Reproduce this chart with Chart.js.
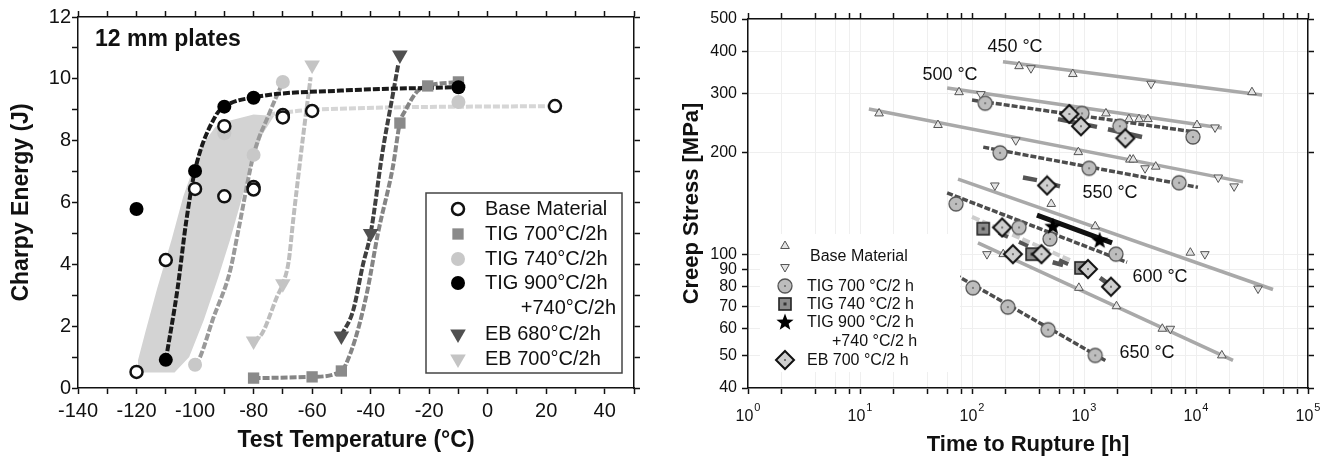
<!DOCTYPE html>
<html>
<head>
<meta charset="utf-8">
<script src="https://cdn.jsdelivr.net/npm/chart.js@4.4.1/dist/chart.umd.min.js"></script>
<style>
  body { margin: 0; background: #fff; }
  #wrap { position: relative; width: 1331px; height: 460px; }
  #c1 { position: absolute; left: 0; top: 0; }
  #c2 { position: absolute; left: 660px; top: 0; }
</style>
</head>
<body>
<div id="wrap">
  <canvas id="c1" width="660" height="460"></canvas>
  <canvas id="c2" width="671" height="460"></canvas>
</div>
<script>
// ---------- left chart: Charpy energy vs test temperature ----------
const baseMatPts = [[-120, 0.52], [-110, 4.14], [-100, 6.44], [-90, 6.2], [-90, 8.47], [-80, 6.5], [-80, 6.42], [-70, 8.83], [-70, 8.75], [-60, 8.96], [23, 9.12]];
const tig700Pts = [[-80, 0.32], [-60, 0.36], [-50, 0.55], [-30, 8.57], [-20.5, 9.77], [-10, 9.9]];
const tig740Pts = [[-100, 0.75], [-90, 8.24], [-80, 7.54], [-70, 9.9], [-10, 9.25]];
const tig900Pts = [[-120, 5.79], [-110, 0.91], [-100, 7.02], [-90, 9.1], [-80, 9.39], [-10, 9.73]];
const eb680Pts = [[-50, 1.68], [-40, 5.0], [-30, 10.77]];
const eb700Pts = [[-80, 1.52], [-70, 3.37], [-60, 10.45]];

// scatter band and fitted curves
const baseBand = [[-119.5, 0.5], [-107, 0.5], [-102, 1.0], [-97, 2.2], [-92, 3.6], [-88, 4.8], [-82, 6.8], [-77, 8.2], [-73, 8.8], [-80, 8.85], [-88, 8.65], [-93, 8.45], [-98, 7.8], [-104, 6.2], [-108, 4.8], [-113, 3.2], [-117, 1.8], [-119.5, 0.9], [-119.5, 0.5]];
const baseCurve = [[-75, 8.85], [-60, 9.0], [23, 9.12]];
const tig700Curve = [[-80, 0.32], [-60, 0.36], [-50, 0.55], [-47, 1.1], [-44, 2.0], [-41, 3.2], [-37.5, 5.0], [-32.4, 7.15], [-30, 8.57], [-28, 9.0], [-24, 9.6], [-20.5, 9.77], [-10, 9.9]];
const tig740Curve = [[-100, 0.75], [-98.3, 1.0], [-94, 2.2], [-88, 3.8], [-85, 5.2], [-80, 7.54], [-75, 8.8], [-70, 9.9]];
const tig900Curve = [[-110, 0.9], [-106, 3.2], [-103, 5.4], [-100, 7.05], [-93, 8.8], [-90, 9.1], [-80, 9.4], [-50, 9.62], [-10, 9.73]];
const eb680Curve = [[-50, 1.7], [-46, 2.5], [-42.6, 4.0], [-40, 5.0], [-36, 7.6], [-32.4, 9.5], [-30.5, 10.5]];
const eb700Curve = [[-80, 1.52], [-77, 1.78], [-72, 2.95], [-70, 3.37], [-68, 4.1], [-66.5, 5.4], [-63, 8.2], [-60.5, 10.05]];

// ---------- right chart: creep stress vs time to rupture ----------
const baseFits = [
  [[189, 373], [38900, 297]],
  [[60, 312], [17000, 237]],
  [[12, 270], [26300, 164]],
  [[75, 167], [48700, 78.5]],
  [[113, 108], [21400, 48.3]],
];
const baseUp = [[263, 362], [795, 343], [31600, 303], [76.6, 303], [1570, 262], [2520, 252], [3100, 252], [3720, 252], [10200, 242],
  [14.8, 262], [49.7, 242], [890, 201], [2570, 191], [2750, 191], [4370, 182], [510, 141], [1260, 121], [8900, 101],
  [190, 100], [900, 79.4], [1950, 70], [5000, 60], [17000, 50]];
const baseDown = [[336, 357], [3970, 321], [120, 299], [14800, 238], [246, 218], [3510, 180], [15800, 169], [21900, 159],
  [160, 160], [12000, 100], [35800, 79], [136, 100], [5900, 60]];
const tig700Fits = [
  [[100, 287], [10400, 230]],
  [[126, 208], [10400, 158]],
  [[60, 152], [2420, 94.6]],
  [[70.6, 87], [1550, 48.3]],
];
const tig700Rt = [[131, 281], [960, 262], [2090, 240], [9400, 223], [178, 200], [1110, 180], [7060, 163],
  [72, 141], [263, 120], [497, 111], [1930, 100], [102, 79.4], [209, 69.6], [478, 59.6], [1260, 50]];
const tig740Rt = [[126, 119], [344, 100], [940, 91]];
const tig740Fit = [[115, 123], [1000, 89]];
const lightFit = [[100, 129], [750, 96]];
const tig900Rt = [[527, 121], [1380, 110]];
const tig900Fit = [[380, 130.6], [1780, 108]];
const eb700Rt = [[740, 261], [940, 240], [2340, 221], [468, 160], [186, 120], [232, 100], [417, 100], [1085, 90.3], [1740, 80]];
const ebFits = [
  [[586, 252], [1306, 239]],
  [[1637, 235], [3296, 223]],
  [[285, 169], [380, 166]],
  [[500, 162], [611, 159]],
  [[525, 94.6], [650, 92.8]],
  [[1390, 85], [1700, 81]],
];
const xTickVals = [1, 2, 4, 6, 8, 10, 20, 40, 60, 80, 100, 200, 400, 600, 800, 1000, 2000, 4000, 6000, 8000, 10000, 20000, 40000, 60000, 80000, 100000];
const xDecades = [0, 1, 2, 3, 4, 5];
const yTickVals = [40, 50, 60, 70, 80, 90, 100, 200, 300, 400, 500];

const FONT = '"Liberation Sans", Arial, sans-serif';
Chart.defaults.font.family = FONT;
Chart.defaults.color = '#111';

const pts = (arr) => arr.map(([x, y]) => ({ x, y }));

function marker(w, h, draw) {
  const c = document.createElement('canvas');
  c.width = w;
  c.height = h;
  draw(c.getContext('2d'), w, h);
  return c;
}

const circ700 = marker(18, 18, (g) => {
  g.beginPath(); g.arc(9, 9, 7, 0, Math.PI * 2);
  g.fillStyle = '#bdbdbd'; g.fill();
  g.lineWidth = 1.3; g.strokeStyle = '#555'; g.stroke();
  g.beginPath(); g.arc(9, 9, 1, 0, Math.PI * 2); g.fillStyle = '#666'; g.fill();
});
const sq740 = marker(16, 16, (g) => {
  g.fillStyle = '#8c8c8c'; g.fillRect(2, 2, 12, 12);
  g.lineWidth = 1.6; g.strokeStyle = '#222'; g.strokeRect(2, 2, 12, 12);
  g.fillStyle = '#333'; g.fillRect(6.5, 6.5, 3, 3);
});
const dia700 = marker(22, 22, (g) => {
  g.beginPath(); g.moveTo(11, 2); g.lineTo(20, 11); g.lineTo(11, 20); g.lineTo(2, 11); g.closePath();
  g.fillStyle = '#cfcfcf'; g.fill();
  g.lineWidth = 2; g.strokeStyle = '#111'; g.stroke();
  g.beginPath(); g.arc(11, 11, 1, 0, Math.PI * 2); g.fillStyle = '#555'; g.fill();
});
const star900 = marker(20, 20, (g) => {
  g.beginPath();
  for (let i = 0; i < 10; i++) {
    const r = i % 2 === 0 ? 9 : 3.8;
    const a = -Math.PI / 2 + i * Math.PI / 5;
    const px = 10 + r * Math.cos(a), py = 10.5 + r * Math.sin(a);
    if (i === 0) g.moveTo(px, py); else g.lineTo(px, py);
  }
  g.closePath(); g.fillStyle = '#000'; g.fill();
});

function drawSym(ctx, s, x, y) {
  if (s.img) {
    ctx.drawImage(s.img, x - s.img.width / 2, y - s.img.height / 2);
    return;
  }
  ctx.fillStyle = s.fill;
  ctx.strokeStyle = s.stroke || s.fill;
  ctx.lineWidth = s.bw || 0;
  Chart.helpers.drawPoint(ctx, { pointStyle: s.style, rotation: s.rot || 0, radius: s.r, borderWidth: s.bw || 0 }, x, y);
}

function tickAxis(extra) {
  return Object.assign({
    grid: { drawOnChartArea: false, tickLength: 6, tickColor: '#111', tickWidth: 1.5 },
    border: { color: '#111', width: 1.5 },
  }, extra);
}

// ----- left chart -----
const curve = (data, color) => ({
  data: pts(data), showLine: true, borderColor: color, borderWidth: 4, borderDash: [7, 2],
  pointRadius: 0, cubicInterpolationMode: 'monotone', fill: false, order: 1,
});

const leftOverlay = {
  id: 'leftOverlay',
  afterDatasetsDraw(chart) {
    const ctx = chart.ctx;
    ctx.save();
    ctx.fillStyle = '#111';
    ctx.textBaseline = 'middle';
    ctx.textAlign = 'left';
    ctx.font = 'bold 23px ' + FONT;
    ctx.fillText('12 mm plates', 95, 40);

    ctx.fillStyle = '#fff';
    ctx.fillRect(426, 193, 196, 180);
    ctx.strokeStyle = '#444';
    ctx.lineWidth = 1.5;
    ctx.strokeRect(426, 193, 196, 180);

    const items = [
      ['Base Material', 209, { style: 'circle', r: 6, fill: '#fff', stroke: '#111', bw: 2.5 }],
      ['TIG 700°C/2h', 234, { style: 'rect', r: 8, fill: '#8a8a8a' }],
      ['TIG 740°C/2h', 259, { style: 'circle', r: 7, fill: '#c8c8c8' }],
      ['TIG 900°C/2h', 283, { style: 'circle', r: 7, fill: '#000' }],
      ['EB 680°C/2h', 334, { style: 'triangle', r: 9, rot: 180, fill: '#505050' }],
      ['EB 700°C/2h', 359, { style: 'triangle', r: 9, rot: 180, fill: '#c4c4c4' }],
    ];
    items.forEach(([label, y, sym]) => {
      drawSym(ctx, sym, 458, y);
      ctx.fillStyle = '#111';
      ctx.font = '20px ' + FONT;
      ctx.textAlign = 'left';
      ctx.fillText(label, 485, y);
    });
    ctx.textAlign = 'right';
    ctx.fillText('+740°C/2h', 616, 308);
    ctx.restore();
  },
};

new Chart(document.getElementById('c1'), {
  type: 'scatter',
  data: {
    datasets: [
      { data: pts(tig900Pts), pointStyle: 'circle', pointRadius: 7, backgroundColor: '#000', borderWidth: 0, order: 0 },
      { data: pts(baseMatPts), pointStyle: 'circle', pointRadius: 6, backgroundColor: '#fff', borderColor: '#111', borderWidth: 2.5, order: 0 },
      { data: pts(tig700Pts), pointStyle: 'rect', pointRadius: 8, backgroundColor: '#8a8a8a', borderWidth: 0, order: 0 },
      { data: pts(tig740Pts), pointStyle: 'circle', pointRadius: 7, backgroundColor: '#c8c8c8', borderWidth: 0, order: 0 },
      { data: pts(eb680Pts), pointStyle: 'triangle', rotation: 180, pointRadius: 9, backgroundColor: '#505050', borderWidth: 0, order: 0 },
      { data: pts(eb700Pts), pointStyle: 'triangle', rotation: 180, pointRadius: 9, backgroundColor: '#c4c4c4', borderWidth: 0, order: 0 },
      curve(tig900Curve, '#1a1a1a'),
      curve(eb680Curve, '#404040'),
      curve(tig700Curve, '#858585'),
      curve(tig740Curve, '#9a9a9a'),
      curve(eb700Curve, '#bdbdbd'),
      Object.assign(curve(baseCurve, '#d6d6d6'), { order: 2 }),
      { data: pts(baseBand), showLine: true, borderWidth: 0, pointRadius: 0, fill: 'shape', backgroundColor: '#d3d3d3', tension: 0, order: 3 },
    ],
  },
  options: {
    responsive: false,
    animation: false,
    devicePixelRatio: 1,
    layout: { padding: 0 },
    plugins: { legend: { display: false }, tooltip: { enabled: false } },
    scales: {
      x: tickAxis({
        type: 'linear', position: 'bottom', min: -140, max: 50,
        ticks: { stepSize: 10, autoSkip: false, maxRotation: 0, padding: 5, font: { size: 20 }, callback: (v) => (v % 20 === 0 ? String(v) : '') },
        title: { display: true, text: 'Test Temperature (°C)', font: { size: 23, weight: 'bold' }, padding: { top: 0, bottom: 6 } },
        afterFit: (s) => { s.height = 72; },
      }),
      xTop: tickAxis({
        type: 'linear', position: 'top', min: -140, max: 50,
        ticks: { stepSize: 10, autoSkip: false, display: false },
        afterFit: (s) => { s.height = 17; },
      }),
      y: tickAxis({
        type: 'linear', position: 'left', min: 0, max: 12,
        ticks: { stepSize: 1, autoSkip: false, padding: 1, font: { size: 20 }, callback: (v) => (v % 2 === 0 ? String(v) : '') },
        title: { display: true, text: 'Charpy Energy (J)', font: { size: 23, weight: 'bold' }, padding: { top: 8, bottom: 0 } },
        afterFit: (s) => { s.width = 78; },
      }),
      yRight: tickAxis({
        type: 'linear', position: 'right', min: 0, max: 12,
        ticks: { stepSize: 1, autoSkip: false, display: false },
        afterFit: (s) => { s.width = 26; },
      }),
    },
  },
  plugins: [leftOverlay],
});

// ----- right chart -----
const rightOverlay = {
  id: 'rightOverlay',
  afterDatasetsDraw(chart) {
    const ctx = chart.ctx;
    ctx.save();
    ctx.fillStyle = '#fff';
    ctx.fillRect(100, 234, 200, 138);

    ctx.textBaseline = 'middle';
    ctx.textAlign = 'left';
    const tri = { style: 'triangle', r: 5, fill: '#e4e4e4', stroke: '#555', bw: 1 };
    drawSym(ctx, tri, 125, 246);
    drawSym(ctx, Object.assign({}, tri, { rot: 180 }), 125, 267);
    drawSym(ctx, { img: circ700 }, 125, 286);
    drawSym(ctx, { img: sq740 }, 125, 304);
    drawSym(ctx, { img: star900 }, 125, 322);
    drawSym(ctx, { img: dia700 }, 125, 360);
    ctx.fillStyle = '#111';
    ctx.font = '16px ' + FONT;
    ctx.fillText('Base Material', 150, 257);
    ctx.fillText('TIG 700 °C/2 h', 147, 287);
    ctx.fillText('TIG 740 °C/2 h', 147, 305);
    ctx.fillText('TIG 900 °C/2 h', 147, 323);
    ctx.fillText('+740 °C/2 h', 172, 342);
    ctx.fillText('EB 700 °C/2 h', 147, 361);

    ctx.font = '18px ' + FONT;
    ctx.textAlign = 'center';
    [['450 °C', 355, 47], ['500 °C', 290, 75], ['550 °C', 450, 193], ['600 °C', 500, 277], ['650 °C', 487, 353]]
      .forEach(([t, x, y]) => ctx.fillText(t, x, y));
    ctx.restore();
  },
  afterDraw(chart) {
    const ctx = chart.ctx;
    const sx = chart.scales.x;
    ctx.save();
    ctx.fillStyle = '#111';
    ctx.textBaseline = 'middle';
    ctx.textAlign = 'left';
    xDecades.forEach((p) => {
      const px = sx.getPixelForValue(Math.pow(10, p));
      ctx.font = '16px ' + FONT;
      const w1 = ctx.measureText('10').width;
      ctx.font = '11px ' + FONT;
      const w2 = ctx.measureText(String(p)).width;
      const x0 = px - (w1 + w2 + 1) / 2;
      ctx.font = '16px ' + FONT;
      ctx.fillText('10', x0, 417);
      ctx.font = '11px ' + FONT;
      ctx.fillText(String(p), x0 + w1 + 1, 408);
    });
    ctx.restore();
  },
};

const line = (data, color, width, dash, order) => ({
  data: pts(data), showLine: true, borderColor: color, borderWidth: width, borderDash: dash || [],
  pointRadius: 0, fill: false, order: order,
});

const rightSets = [
  { data: pts(tig900Rt), pointStyle: star900, order: 0 },
  { data: pts(eb700Rt), pointStyle: dia700, order: 0 },
  { data: pts(tig740Rt), pointStyle: sq740, order: 0 },
  { data: pts(tig700Rt), pointStyle: circ700, order: 0 },
  { data: pts(baseUp), pointStyle: 'triangle', pointRadius: 5, backgroundColor: '#e4e4e4', borderColor: '#555', borderWidth: 1, order: 0 },
  { data: pts(baseDown), pointStyle: 'triangle', rotation: 180, pointRadius: 5, backgroundColor: '#e4e4e4', borderColor: '#555', borderWidth: 1, order: 0 },
  line(tig900Fit, '#111', 5, [], 1),
];
ebFits.forEach((f) => rightSets.push(line(f, '#555', 4.5, [], 1)));
rightSets.push(line(tig740Fit, '#555', 4, [10, 12], 1));
tig700Fits.forEach((f) => rightSets.push(line(f, '#4d4d4d', 3.5, [6, 2], 1)));
rightSets.push(line(lightFit, '#cdcdcd', 4, [8, 3], 2));
baseFits.forEach((f) => rightSets.push(line(f, '#a9a9a9', 3.5, [], 2)));

const setTicks = (vals) => (s) => { s.ticks = vals.map((v) => ({ value: v })); };
const gridOn = { drawOnChartArea: true, color: '#efefef', tickLength: 6, tickColor: '#111', tickWidth: 1.5 };

new Chart(document.getElementById('c2'), {
  type: 'scatter',
  data: { datasets: rightSets },
  options: {
    responsive: false,
    animation: false,
    devicePixelRatio: 1,
    layout: { padding: 0 },
    plugins: { legend: { display: false }, tooltip: { enabled: false } },
    scales: {
      x: tickAxis({
        type: 'logarithmic', position: 'bottom', min: 1, max: 100000,
        afterBuildTicks: setTicks(xTickVals),
        grid: gridOn,
        ticks: { display: false },
        title: { display: true, text: 'Time to Rupture [h]', font: { size: 22, weight: 'bold' }, padding: { top: 0, bottom: 2 } },
        afterFit: (s) => { s.height = 72; },
      }),
      xTop: tickAxis({
        type: 'logarithmic', position: 'top', min: 1, max: 100000,
        afterBuildTicks: setTicks(xTickVals),
        ticks: { display: false },
        afterFit: (s) => { s.height = 19; },
      }),
      y: tickAxis({
        type: 'logarithmic', position: 'left', min: 40, max: 500,
        afterBuildTicks: setTicks(yTickVals),
        grid: gridOn,
        ticks: { autoSkip: false, padding: 5, font: { size: 16 }, callback: (v) => String(v) },
        title: { display: true, text: 'Creep Stress [MPa]', font: { size: 22, weight: 'bold' }, padding: { top: 19, bottom: 0 } },
        afterFit: (s) => { s.width = 88; },
      }),
      yRight: tickAxis({
        type: 'logarithmic', position: 'right', min: 40, max: 500,
        afterBuildTicks: setTicks(yTickVals),
        ticks: { display: false },
        afterFit: (s) => { s.width = 23; },
      }),
    },
  },
  plugins: [rightOverlay],
});
</script>
</body>
</html>
